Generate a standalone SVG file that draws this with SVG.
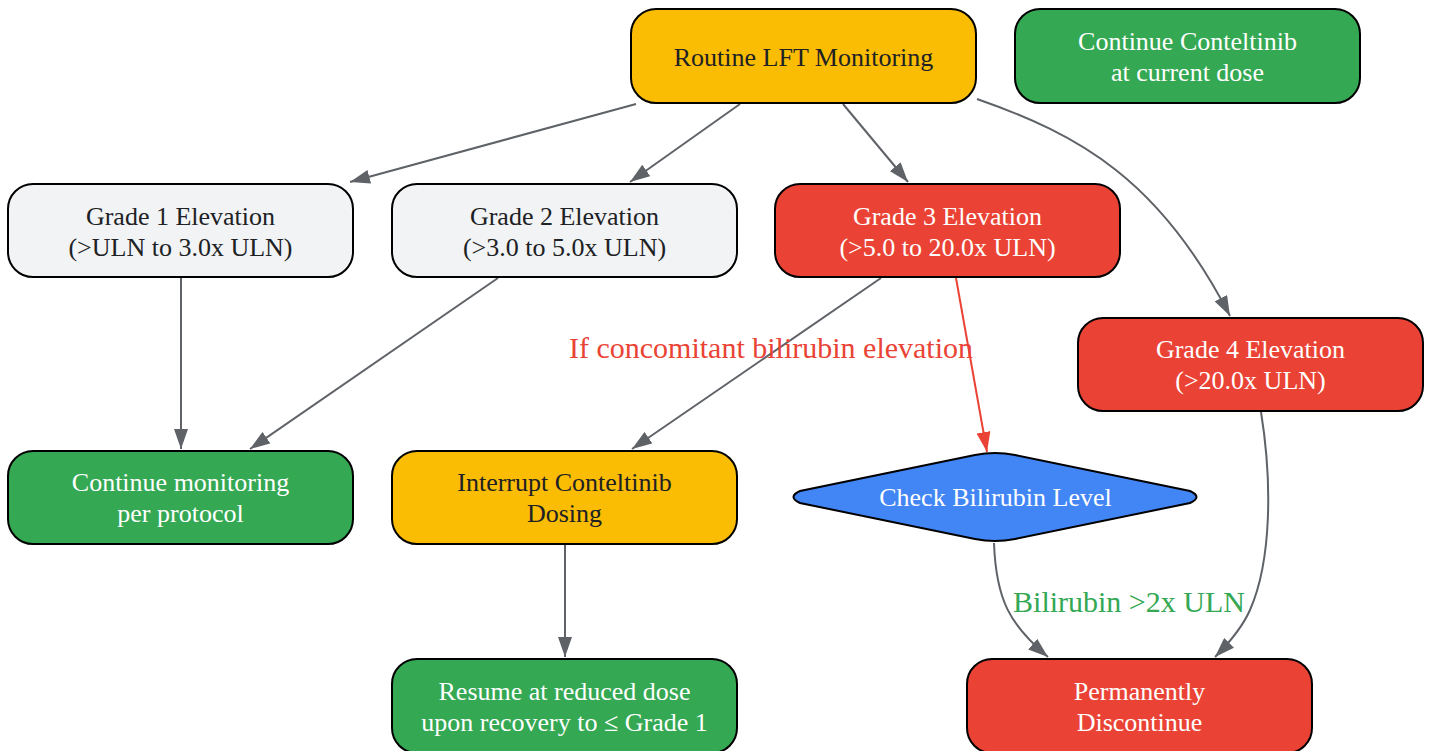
<svg xmlns="http://www.w3.org/2000/svg" width="1431" height="751" viewBox="0 0 1431 751">
<defs>
<style>
.n{stroke:#000;stroke-width:2}
.y{fill:#FBBC04}.g{fill:#34A853}.r{fill:#EA4335}.w{fill:#F1F3F4}.b{fill:#4285F4}
text{font-family:'Liberation Serif','Times New Roman',Times,serif;font-size:26px;text-anchor:middle}
.dk{fill:#202124}.lt{fill:#fff}
.e{fill:none;stroke:#5F6368;stroke-width:2}
.er{fill:none;stroke:#EA4335;stroke-width:2}
.lbl{font-size:30px}
</style>
<marker id="a" viewBox="0 0 10 10" refX="10" refY="5" markerWidth="20" markerHeight="14" markerUnits="userSpaceOnUse" orient="auto" preserveAspectRatio="none">
<path d="M0,0 L10,5 L0,10 z" fill="#5F6368"/>
</marker>
<marker id="ar" viewBox="0 0 10 10" refX="10" refY="5" markerWidth="20" markerHeight="14" markerUnits="userSpaceOnUse" orient="auto" preserveAspectRatio="none">
<path d="M0,0 L10,5 L0,10 z" fill="#EA4335"/>
</marker>
</defs>
<rect width="1431" height="751" fill="#fff"/>
<g id="connectors">
<path class="e" d="M636,104 L350,182" marker-end="url(#a)"/>
<path class="e" d="M740,104 L630,182" marker-end="url(#a)"/>
<path class="e" d="M843,104 L908,182" marker-end="url(#a)"/>
<path class="e" d="M977,99 C1080,135 1160,180 1230,316" marker-end="url(#a)"/>
<path class="e" d="M181,278 L181,449" marker-end="url(#a)"/>
<path class="e" d="M498,278 L250,449" marker-end="url(#a)"/>
<path class="e" d="M881,278 L632,449" marker-end="url(#a)"/>
<path class="er" d="M956,278 L987,452" marker-end="url(#ar)"/>
<path class="e" d="M994,543 C996,600 1010,625 1048,657" marker-end="url(#a)"/>
<path class="e" d="M1261,412 C1272,480 1272,560 1250,610 C1242,628 1230,642 1215,657" marker-end="url(#a)"/>
<path class="e" d="M565,545 L565,657" marker-end="url(#a)"/>
<text class="lbl" x="771" y="358" fill="#EA4335">If concomitant bilirubin elevation</text>
<text class="lbl" x="1129" y="612" fill="#34A853">Bilirubin &gt;2x ULN</text>
</g>
<g id="routine"><rect class="n y" x="631" y="9" width="345" height="94" rx="25"/><text class="dk" x="803.5" y="66">Routine LFT Monitoring</text></g>
<g id="continue"><rect class="n g" x="1015" y="9" width="345" height="94" rx="25"/><text class="lt" x="1187.5" y="50">Continue Conteltinib</text><text class="lt" x="1187.5" y="81">at current dose</text></g>
<g id="grade1"><rect class="n w" x="8" y="184" width="345" height="93" rx="25"/><text class="dk" x="180.5" y="225">Grade 1 Elevation</text><text class="dk" x="180.5" y="256">(&gt;ULN to 3.0x ULN)</text></g>
<g id="grade2"><rect class="n w" x="392" y="184" width="345" height="93" rx="25"/><text class="dk" x="564.5" y="225">Grade 2 Elevation</text><text class="dk" x="564.5" y="256">(&gt;3.0 to 5.0x ULN)</text></g>
<g id="grade3"><rect class="n r" x="775" y="184" width="345" height="93" rx="25"/><text class="lt" x="947.5" y="225">Grade 3 Elevation</text><text class="lt" x="947.5" y="256">(&gt;5.0 to 20.0x ULN)</text></g>
<g id="grade4"><rect class="n r" x="1078" y="318" width="345" height="93" rx="25"/><text class="lt" x="1250.5" y="358">Grade 4 Elevation</text><text class="lt" x="1250.5" y="389">(&gt;20.0x ULN)</text></g>
<g id="monitor"><rect class="n g" x="8" y="451" width="345" height="93" rx="25"/><text class="lt" x="180.5" y="491">Continue monitoring</text><text class="lt" x="180.5" y="522">per protocol</text></g>
<g id="interrupt"><rect class="n y" x="392" y="451" width="345" height="93" rx="25"/><text class="dk" x="564.5" y="491">Interrupt Conteltinib</text><text class="dk" x="564.5" y="522">Dosing</text></g>
<g id="check"><path class="n b" d="M975,455 Q995,451 1015,455 L1190,491 Q1203,497 1190,503 L1015,539 Q995,543 975,539 L800,503 Q787,497 800,491 Z"/><text class="lt" x="995.5" y="506">Check Bilirubin Level</text></g>
<g id="resume"><rect class="n g" x="392" y="659" width="345" height="94" rx="25"/><text class="lt" x="564.5" y="700">Resume at reduced dose</text><text class="lt" x="564.5" y="731">upon recovery to ≤ Grade 1</text></g>
<g id="discontinue"><rect class="n r" x="967" y="659" width="345" height="94" rx="25"/><text class="lt" x="1139.5" y="700">Permanently</text><text class="lt" x="1139.5" y="731">Discontinue</text></g>
</svg>
